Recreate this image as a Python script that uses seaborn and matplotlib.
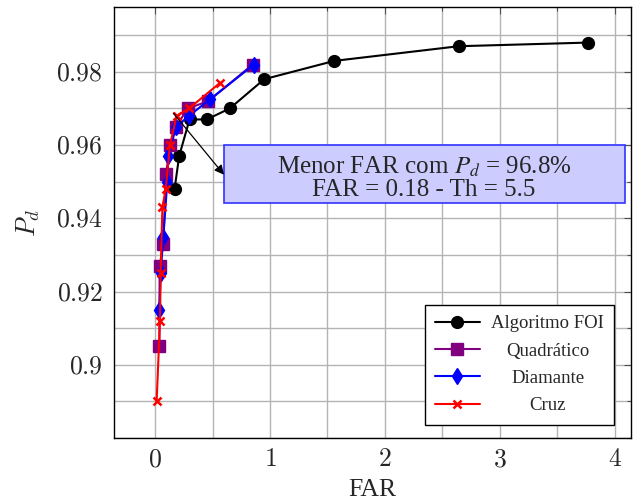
import seaborn as sns
import matplotlib.pyplot as plt
import matplotlib.patches as mpatches
from matplotlib.ticker import MultipleLocator, FixedLocator, FixedFormatter
import pandas as pd

# Data
foi_far = [0.17, 0.21, 0.30, 0.45, 0.65, 0.95, 1.56, 2.64, 3.77]
foi_pd = [0.948, 0.957, 0.967, 0.967, 0.970, 0.978, 0.983, 0.987, 0.988]

quad_far = [0.038, 0.040, 0.072, 0.096, 0.13, 0.183, 0.284, 0.464, 0.849]
quad_pd = [0.905, 0.927, 0.933, 0.952, 0.960, 0.965, 0.970, 0.972, 0.982]

diam_far = [0.038, 0.049, 0.072, 0.107, 0.116, 0.183, 0.296, 0.478, 0.861]
diam_pd = [0.915, 0.925, 0.935, 0.950, 0.957, 0.965, 0.968, 0.9725, 0.982]

cruz_far = [0.014, 0.043, 0.049, 0.064, 0.093, 0.13, 0.188, 0.296, 0.565]
cruz_pd = [0.890, 0.912, 0.925, 0.943, 0.948, 0.960, 0.968, 0.970, 0.977]

series = [
    ('Algoritmo FOI', foi_far, foi_pd, 'black', 'o', 8.5),
    ('Quadrático', quad_far, quad_pd, '#800080', 's', 8.0),
    ('Diamante', diam_far, diam_pd, '#0000ff', 'd', 8.5),
    ('Cruz', cruz_far, cruz_pd, '#ff0000', 'x', 6.0),
]

xticks = [0, 1, 2, 3, 4]
yticks = [0.90, 0.92, 0.94, 0.96, 0.98]
ytick_labels = ['0.9', '0.92', '0.94', '0.96', '0.98']

sns.set_style('white')
plt.rcParams['font.family'] = ['Liberation Serif', 'DejaVu Serif']
plt.rcParams['mathtext.fontset'] = 'cm'

fig = plt.figure(figsize=(6.35, 5.04), dpi=100)
ax = fig.add_axes([0.1795, 0.131, 0.8142, 0.855])

for name, fx, fy, col, mk, ms in series:
    df = pd.DataFrame({'FAR': fx, 'Pd': fy})
    sns.lineplot(data=df, x='FAR', y='Pd', sort=False, estimator=None,
                 color=col, marker=mk, markersize=ms, markeredgecolor=col,
                 markerfacecolor=col,
                 markeredgewidth=1.8 if mk == 'x' else 1.0,
                 linewidth=1.5, label=name, ax=ax, zorder=3)

ax.set_xlim(-0.357, 4.14)
ax.set_ylim(0.880, 0.9977)

ax.xaxis.set_major_locator(FixedLocator(xticks))
ax.xaxis.set_major_formatter(FixedFormatter([f'${t}$' for t in xticks]))
ax.xaxis.set_minor_locator(MultipleLocator(0.5))
ax.yaxis.set_major_locator(FixedLocator(yticks))
ax.yaxis.set_major_formatter(FixedFormatter([f'${t}$' for t in ytick_labels]))
ax.yaxis.set_minor_locator(MultipleLocator(0.01))

ax.grid(True, which='both', color='#b4b4b4', linewidth=1.0, zorder=0)
ax.set_axisbelow(True)
ax.tick_params(which='both', direction='in', top=True, right=True,
               color='#505050', width=0.8)
ax.tick_params(which='major', length=5, labelsize=18.5, pad=8)
ax.tick_params(which='minor', length=3)
for s in ax.spines.values():
    s.set_color('black')
    s.set_linewidth(1.0)

ax.set_xlabel('FAR', fontsize=18.5, labelpad=6)
ax.set_ylabel('$P_d$', fontsize=19, labelpad=10)

# annotation box
box = mpatches.Rectangle((0.60, 0.9441), 3.487, 0.0158, facecolor='#ccccff',
                         edgecolor='#3333ff', linewidth=1.2, zorder=4)
ax.add_patch(box)
ax.text(2.34, 0.9510, 'Menor FAR com $P_d$ = 96.8%\nFAR = 0.18 - Th = 5.5',
        ha='center', va='center', fontsize=18, linespacing=1.0,
        math_fontfamily='stix', zorder=5)
ax.annotate('', xy=(0.60, 0.9519), xytext=(0.16, 0.9687),
            arrowprops=dict(arrowstyle='-|>', color='black', lw=0.9,
                            mutation_scale=14, shrinkA=0, shrinkB=0),
            zorder=5)

leg = ax.legend(loc='lower right', fontsize=13.5, frameon=True, fancybox=False,
                framealpha=1, edgecolor='black', handlelength=2.4,
                borderpad=0.55, labelspacing=0.55, handletextpad=0.6,
                bbox_to_anchor=(0.986, 0.009))
leg.get_frame().set_linewidth(1.0)

# centre the legend labels like pgfplots does
fig.canvas.draw()
texts = leg.get_texts()
widths = [t.get_window_extent().width for t in texts]
maxw = max(widths)
for t, w in zip(texts, widths):
    t.set_x((maxw - w) / 2)

plt.savefig('out.png', dpi=100)
